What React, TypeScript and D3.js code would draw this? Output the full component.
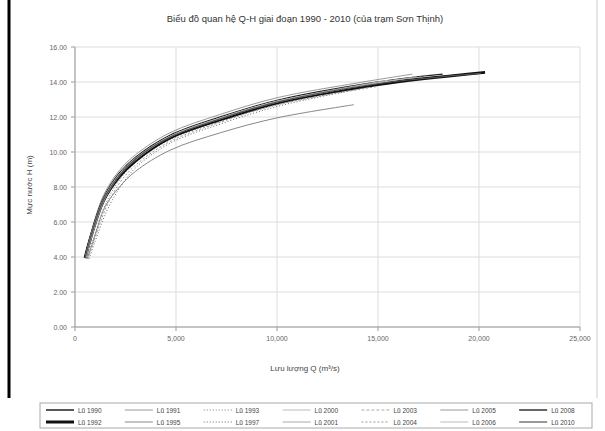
import React from "react";
import * as d3 from "d3";

const title = "Biểu đồ quan hệ Q-H giai đoạn 1990 - 2010 (của trạm Sơn Thịnh)";
const xTitle = "Lưu lượng Q (m³/s)";
const yTitle = "Mực nước H (m)";
const xTicks = [0, 5000, 10000, 15000, 20000, 25000];
const yTicks = [0, 2, 4, 6, 8, 10, 12, 14, 16];

const seriesNames = [
  "Lũ 1990", "Lũ 1991", "Lũ 1993", "Lũ 2000", "Lũ 2003", "Lũ 2005", "Lũ 2008",
  "Lũ 1992", "Lũ 1995", "Lũ 1997", "Lũ 2001", "Lũ 2004", "Lũ 2006", "Lũ 2010",
];

const s1990: [number, number][] = [[500, 3.95], [750, 5.1], [1400, 7.35], [2200, 8.8], [3000, 9.7], [4700, 10.95], [7200, 12.0], [10000, 12.95], [15000, 14.0], [18200, 14.45]];
const s1991: [number, number][] = [[500, 4.0], [750, 5.2], [1400, 7.5], [2200, 8.95], [3000, 9.85], [4700, 11.1], [7200, 12.15], [10000, 13.1], [14000, 13.95], [16700, 14.45]];
const s1993: [number, number][] = [[600, 3.92], [900, 5.0], [1500, 7.0], [2200, 8.4], [3000, 9.4], [4700, 10.7], [7200, 11.75], [10000, 12.7], [14000, 13.6]];
const s2000: [number, number][] = [[550, 3.95], [800, 5.1], [1450, 7.3], [2200, 8.7], [3000, 9.6], [4700, 10.9], [7200, 11.95], [10000, 12.9], [15500, 14.1]];
const s2003: [number, number][] = [[550, 3.95], [800, 5.05], [1450, 7.25], [2200, 8.65], [3000, 9.6], [4700, 10.85], [7200, 11.9], [10000, 12.85], [15000, 13.9], [17500, 14.35]];
const s2005: [number, number][] = [[500, 3.95], [750, 5.1], [1400, 7.3], [2200, 8.75], [3000, 9.65], [4700, 10.9], [7200, 11.95], [10000, 12.9], [13000, 13.55]];
const s2008: [number, number][] = [[500, 3.95], [750, 5.05], [1400, 7.3], [2200, 8.7], [3000, 9.6], [4700, 10.85], [7200, 11.9], [10000, 12.85], [15000, 13.9], [19000, 14.4]];
const s1992: [number, number][] = [[500, 3.94], [750, 5.0], [1400, 7.2], [2200, 8.6], [3000, 9.5], [4700, 10.8], [7200, 11.85], [10000, 12.8], [15000, 13.85], [20300, 14.55]];
const s1995: [number, number][] = [[600, 3.9], [900, 4.9], [1500, 6.9], [2200, 8.0], [3000, 8.9], [4700, 10.1], [7200, 11.1], [10000, 11.95], [13800, 12.7]];
const s1997: [number, number][] = [[700, 3.9], [1000, 4.9], [1600, 6.7], [2300, 8.1], [3000, 9.1], [4700, 10.5], [7200, 11.6], [10000, 12.6], [14500, 13.7]];
const s2001: [number, number][] = [[550, 3.95], [800, 5.05], [1450, 7.25], [2200, 8.65], [3000, 9.55], [4700, 10.85], [7200, 11.9], [10000, 12.85], [16000, 14.15]];
const s2004: [number, number][] = [[650, 3.9], [950, 4.95], [1550, 6.85], [2250, 8.3], [3000, 9.25], [4700, 10.6], [7200, 11.7], [10000, 12.7], [15000, 13.75]];
const s2006: [number, number][] = [[500, 3.95], [750, 5.1], [1400, 7.3], [2200, 8.75], [3000, 9.65], [4700, 10.9], [7200, 11.95], [10000, 12.9], [15000, 13.95], [16900, 14.3]];
const s2010: [number, number][] = [[500, 3.95], [750, 5.05], [1400, 7.25], [2200, 8.65], [3000, 9.6], [4700, 10.85], [7200, 11.9], [10000, 12.85], [15000, 13.9], [20100, 14.5]];

const seriesData = [s1990, s1991, s1993, s2000, s2003, s2005, s2008, s1992, s1995, s1997, s2001, s2004, s2006, s2010];

const styles = [
  { stroke: "#222", width: 1.5, dash: "" },
  { stroke: "#999", width: 1, dash: "" },
  { stroke: "#777", width: 1, dash: "1,2" },
  { stroke: "#bbb", width: 1, dash: "" },
  { stroke: "#aaa", width: 1, dash: "3,2" },
  { stroke: "#999", width: 1, dash: "" },
  { stroke: "#333", width: 1.5, dash: "" },
  { stroke: "#111", width: 3, dash: "" },
  { stroke: "#888", width: 1, dash: "" },
  { stroke: "#666", width: 1, dash: "1,2" },
  { stroke: "#aaa", width: 1, dash: "" },
  { stroke: "#999", width: 1, dash: "2,2" },
  { stroke: "#bbb", width: 1, dash: "" },
  { stroke: "#555", width: 1.2, dash: "" },
];

export default function App() {
  const W = 605, H = 431;
  const left = 75, right = 580, top = 47, bottom = 327;
  const x = d3.scaleLinear().domain([0, 25000]).range([left, right]);
  const y = d3.scaleLinear().domain([0, 16]).range([bottom, top]);
  const line = d3.line<[number, number]>().x(d => x(d[0])).y(d => y(d[1])).curve(d3.curveCatmullRom.alpha(0.5));
  const fmt = d3.format(",");
  const font = "Liberation Sans, Arial, sans-serif";
  const legX = 40, legY = 403, legW = 552, legH = 25;
  const colW = legW / 7;

  return (
    <svg width={W} height={H} style={{ position: "absolute", left: 0, top: 0 }} fontFamily={font}>
      <rect width={W} height={H} fill="#fff" />
      <line x1={9} x2={9} y1={0} y2={398} stroke="#000" strokeWidth={3} />
      <line x1={597} x2={597} y1={0} y2={398} stroke="#ccc" strokeWidth={1} />
      <text x={305} y={22} textAnchor="middle" fontSize={9.5} fill="#333">{title}</text>
      {yTicks.map(t => (
        <g key={"y" + t}>
          <line x1={left} x2={right} y1={y(t)} y2={y(t)} stroke="#ddd" />
          <line x1={left - 4} x2={left} y1={y(t)} y2={y(t)} stroke="#999" />
          <text x={left - 8} y={y(t) + 3} textAnchor="end" fontSize={7} fill="#666">{t.toFixed(2)}</text>
        </g>
      ))}
      {xTicks.map(t => (
        <g key={"x" + t}>
          <line x1={x(t)} x2={x(t)} y1={top} y2={bottom} stroke="#ddd" />
          <line x1={x(t)} x2={x(t)} y1={bottom} y2={bottom + 4} stroke="#999" />
          <text x={x(t)} y={bottom + 14} textAnchor="middle" fontSize={7} fill="#666">{fmt(t)}</text>
        </g>
      ))}
      <line x1={left} x2={left} y1={top} y2={bottom} stroke="#999" />
      <line x1={left} x2={right} y1={bottom} y2={bottom} stroke="#999" />
      <text x={305} y={371} textAnchor="middle" fontSize={8} fill="#444">{xTitle}</text>
      <text transform={`translate(32,${(top + bottom) / 2 - 2}) rotate(-90)`} textAnchor="middle" fontSize={8} fill="#444">{yTitle}</text>
      {seriesData.map((s, i) => (
        <path key={"s" + i} d={line(s) || ""} fill="none" stroke={styles[i].stroke} strokeWidth={styles[i].width} strokeDasharray={styles[i].dash} />
      ))}
      <rect x={legX} y={legY} width={legW} height={legH} fill="#fff" stroke="#aaa" />
      {seriesNames.map((n, i) => {
        const col = i % 7, row = Math.floor(i / 7);
        const lx = legX + 6 + col * colW;
        const ly = legY + 7 + row * 12;
        return (
          <g key={"l" + i}>
            <line x1={lx} x2={lx + 28} y1={ly} y2={ly} stroke={styles[i].stroke} strokeWidth={styles[i].width} strokeDasharray={styles[i].dash} />
            <text x={lx + 32} y={ly + 2.5} fontSize={6.5} fill="#444">{n}</text>
          </g>
        );
      })}
    </svg>
  );
}
